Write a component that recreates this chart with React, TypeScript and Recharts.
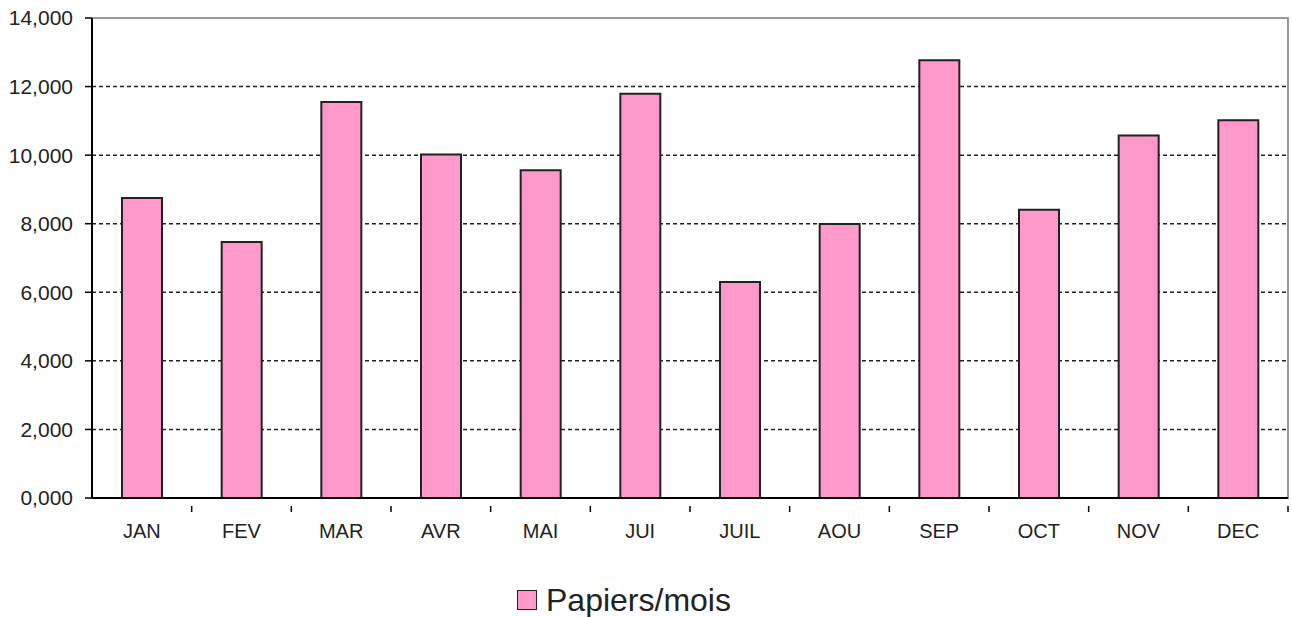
import { Bar, BarChart, CartesianGrid, Legend, ReferenceArea, XAxis, YAxis } from "recharts";

const months = ["JAN", "FEV", "MAR", "AVR", "MAI", "JUI", "JUIL", "AOU", "SEP", "OCT", "NOV", "DEC"];
const papers = [8750, 7470, 11550, 10020, 9560, 11790, 6300, 7990, 12770, 8410, 10570, 11020];
const yTicks = [0, 2000, 4000, 6000, 8000, 10000, 12000, 14000];
const gridLines = [2000, 4000, 6000, 8000, 10000, 12000];

const data = months.map((m, i) => ({ month: m, value: papers[i] }));

const fmt = (v: number) => (v / 1000).toFixed(3).replace(".", ",");

const W = 1292;
const H = 617;
const LEFT = 92;
const RIGHT = 4;
const band = (W - LEFT - RIGHT) / months.length;

const MonthTick = (props: any) => {
  const { x, y, payload } = props;
  const edge = x + band / 2;
  return (
    <g>
      <line x1={edge} y1={y} x2={edge} y2={y + 6} stroke="#000" strokeWidth={1.5} />
      <text x={x} y={y + 32} textAnchor="middle" fontSize={20} fill="#222">
        {payload.value}
      </text>
    </g>
  );
};

const LegendBox = () => (
  <div
    style={{
      display: "flex",
      justifyContent: "center",
      alignItems: "center",
      height: 40,
      paddingTop: 6,
      boxSizing: "border-box",
      fontSize: 32,
      color: "#222",
      marginLeft: -40,
    }}
  >
    <span style={{ display: "inline-block", width: 18, height: 18, background: "#FF99CC", border: "1.5px solid #222", marginRight: 9 }} />
    Papiers/mois
  </div>
);

export default function App() {
  return (
    <div style={{ position: "absolute", left: 0, top: 0, fontFamily: "Arial, 'Liberation Sans', sans-serif", background: "#fff" }}>
      <BarChart width={W} height={H} data={data} margin={{ top: 18, right: RIGHT, left: 0, bottom: 0 }} barSize={40}>
        <ReferenceArea y1={0} y2={14000} fill="none" stroke="#999" strokeWidth={2} />
        <CartesianGrid vertical={false} horizontalValues={gridLines} stroke="#222" strokeDasharray="4 3" strokeWidth={1.5} />
        <XAxis dataKey="month" height={79} axisLine={{ stroke: "#000", strokeWidth: 2 }} tickLine={false} tick={<MonthTick />} interval={0} />
        <YAxis
          width={LEFT}
          domain={[0, 14000]}
          ticks={yTicks}
          tickFormatter={fmt}
          axisLine={{ stroke: "#000", strokeWidth: 2 }}
          tickLine={{ stroke: "#000", strokeWidth: 1.5 }}
          tickSize={7}
          tickMargin={12}
          tick={{ fontSize: 21, fill: "#222" }}
        />
        <Legend verticalAlign="bottom" content={<LegendBox />} />
        <Bar dataKey="value" fill="#FF99CC" stroke="#222" strokeWidth={2} isAnimationActive={false} />
      </BarChart>
    </div>
  );
}
